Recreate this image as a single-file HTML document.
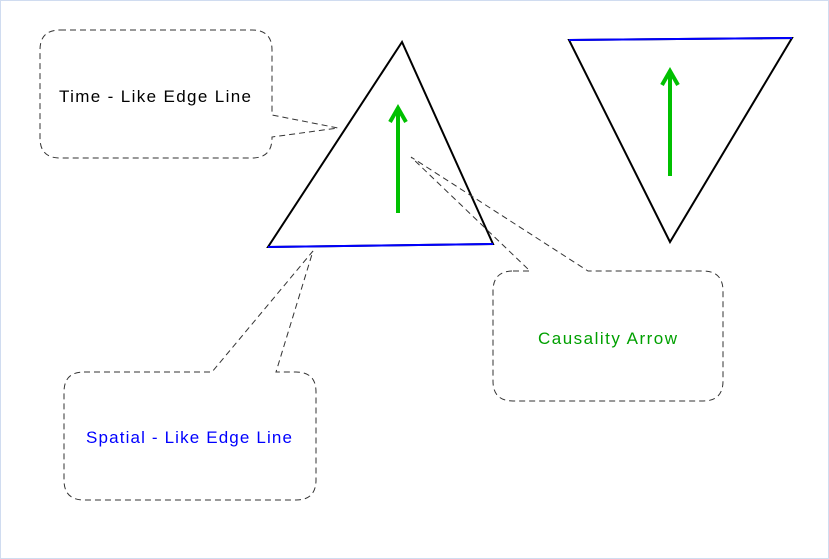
<!DOCTYPE html>
<html><head><style>body{margin:0;background:#fff}svg{display:block}</style></head><body>
<svg width="829" height="559" xmlns="http://www.w3.org/2000/svg" font-family="Liberation Sans, sans-serif" font-size="17">
<rect x="0.5" y="0.5" width="828" height="558" fill="#fff" stroke="#d0dcf0"/>
<g fill="#fff" stroke="#333" stroke-dasharray="6,4" stroke-width="1">
<path d="M60,30 H252 Q272,30 272,50 V115 L338,128 L272,137 V138 Q272,158 252,158 H60 Q40,158 40,138 V50 Q40,30 60,30 Z"/>
<path d="M84,372 H212 L313,251 L276,372 H296 Q316,372 316,392 V480 Q316,500 296,500 H84 Q64,500 64,480 V392 Q64,372 84,372 Z"/>
</g>
<polygon points="402,42 268,247 493,244" fill="none" stroke="#000" stroke-width="2"/>
<line x1="268" y1="247" x2="493" y2="244" stroke="#00f" stroke-width="2"/>
<g fill="#fff" stroke="#333" stroke-dasharray="6,4" stroke-width="1">
<path d="M513,271 H530 L411,157 L588,271 H703 Q723,271 723,291 V381 Q723,401 703,401 H513 Q493,401 493,381 V291 Q493,271 513,271 Z" fill="none"/>
</g>
<polygon points="569,40 792,38 670,242" fill="none" stroke="#000" stroke-width="2"/>
<line x1="569" y1="40" x2="792" y2="38" stroke="#00f" stroke-width="2"/>
<g stroke="#00c000" stroke-width="4" fill="none">
<line x1="398" y1="213" x2="398" y2="108"/><polyline points="390,122 398,108 406,122"/>
<line x1="670" y1="176" x2="670" y2="71"/><polyline points="662,85 670,71 678,85"/>
</g>
<text x="59" y="102" fill="#000" textLength="192" lengthAdjust="spacing">Time - Like Edge Line</text>
<text x="86" y="443" fill="#00f" textLength="206" lengthAdjust="spacing">Spatial - Like Edge Line</text>
<text x="538" y="344" fill="#00a000" textLength="139" lengthAdjust="spacing">Causality Arrow</text>
</svg>
</body></html>
